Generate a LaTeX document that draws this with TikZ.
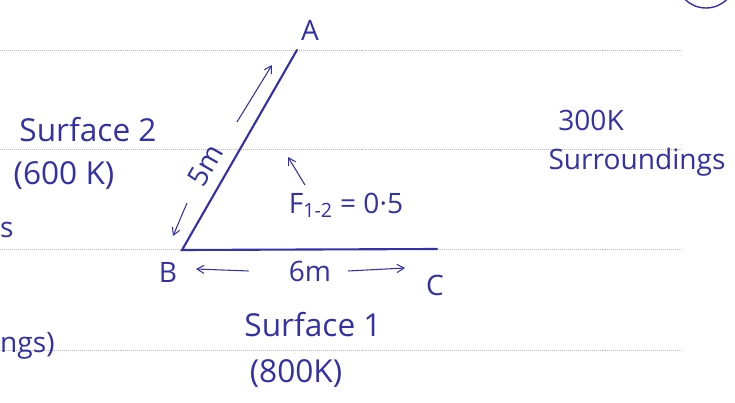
\documentclass[tikz,border=0pt]{standalone}
\usepackage{fontspec}
\setmainfont{Open Sans}
\usetikzlibrary{positioning,arrows.meta}

\definecolor{ink}{RGB}{52,48,165}

\begin{document}
\begin{tikzpicture}[
    x=0.03cm, y=-0.03cm,
    rule/.style={gray!55, densely dotted, line width=0.7pt},
    side/.style={ink, line width=1.8pt, line cap=round},
    hand/.style={ink, inner sep=0pt, font=\fontsize{24}{28}\selectfont},
    big/.style={hand, font=\fontsize{27}{32}\selectfont},
    tip/.style={ink, line width=0.9pt, -{Straight Barb[length=6pt,width=7pt]}}
]
\useasboundingbox (0,0) rectangle (735,403);

% Ruled paper
\foreach \ry in {50,149,249,350}
    \draw[rule] (0,\ry) -- (682,\ry);

% Triangle sides
\coordinate (ptA) at (297,50);
\coordinate (ptB) at (182,250);
\coordinate (ptC) at (437,249);
\draw[side] (ptA) -- (ptB) -- (ptC);

% Corner letters
\node[hand] (labA) at (310,30) {A};
\node[hand] (labB) at (168,272) {B};
\node[hand] (labC) at (435,285) {C};

% Length of AB
\node[hand, rotate=60] (len5) at (205,165) {5m};
\coordinate (upS) at (237,122);
\coordinate (upE) at (272,65);
\coordinate (dnS) at (187,203);
\coordinate (dnE) at (173,236);
\draw[tip] (upS) -- (upE);
\draw[tip] (dnS) -- (dnE);

% Length of BC
\node[hand] (len6) at (310,271) {6m};
\coordinate (lftE) at (196,269);
\coordinate (rgtE) at (405,268);
\draw[tip] ([xshift=-1.2cm]len6.west) -- (lftE);
\draw[tip] ([xshift=0.5cm]len6.east) -- (rgtE);

% View factor
\coordinate (fS) at (305,185);
\coordinate (fE) at (288,157);
\draw[tip] (fS) -- (fE);
\node[hand] (fac) at (346,205) {F\textsubscript{1-2} = 0·5};

% Surfaces
\node[big] (surf2) at (88,130) {Surface 2};
\node[big] (temp2) at (64,176) {(600 K)};
\node[big] (surf1) at (313,325) {Surface 1};
\node[big] (temp1) at (296,374) {(800K)};

% Surroundings
\node[hand] (tsur) at (591,120) {300K};
\node[hand] (surr) at (637,162) {Surroundings};

% Fragments at the left edge
\node[hand, anchor=west] (frag1) at (0,230) {s};
\node[hand, anchor=west] (frag2) at (0,346) {ngs)};
\draw[ink, line width=1.2pt] (706,-22) circle[radius=30];

\end{tikzpicture}
\end{document}
